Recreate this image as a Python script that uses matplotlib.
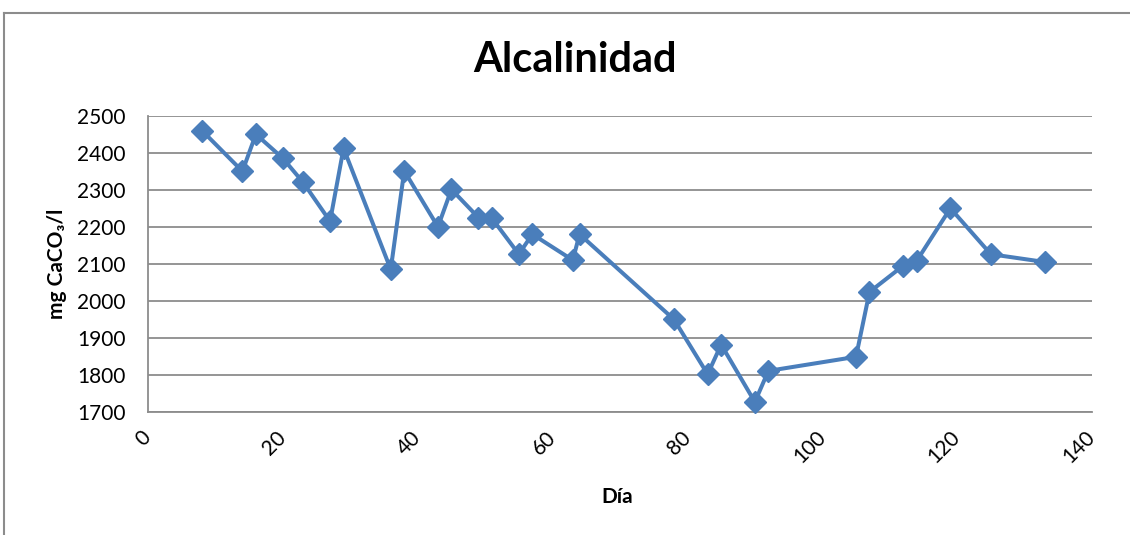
import matplotlib
matplotlib.use("Agg")
import matplotlib.pyplot as plt
from matplotlib.lines import Line2D

plt.rcParams['font.family'] = ['Lato', 'DejaVu Sans']

# Alkalinity measurements by day
dias = [8, 14, 16, 20, 23, 27, 29, 36, 38, 43, 45, 49, 51, 55, 57, 63, 64,
        78, 83, 85, 90, 92, 105, 107, 112, 114, 119, 125, 133]
alcalinidad = [2460, 2350, 2450, 2385, 2320, 2215, 2412, 2085, 2351, 2200,
               2301, 2225, 2223, 2126, 2180, 2110, 2180, 1950, 1802, 1882,
               1727, 1811, 1849, 2024, 2095, 2108, 2250, 2126, 2105]

x_ticks = [0, 20, 40, 60, 80, 100, 120, 140]
y_ticks = [1700, 1800, 1900, 2000, 2100, 2200, 2300, 2400, 2500]

W, H = 1130, 535
fig = plt.figure(figsize=(W / 100, H / 100), dpi=100)

# chart frame
border = '#8c8c8c'
fig.add_artist(Line2D([4 / W, 1.0], [1 - 13 / H, 1 - 13 / H], color=border, lw=1.5))
fig.add_artist(Line2D([4 / W, 4 / W], [0.0, 1 - 13 / H], color=border, lw=1.5))

left, right, top, bottom = 148 / W, 1092 / W, 115.7 / H, 412 / H
ax = fig.add_axes([left, 1 - bottom, right - left, bottom - top])

ax.plot(dias, alcalinidad, color='#4A7EBB', lw=2.9, marker='D',
        markersize=11, markerfacecolor='#4A7EBB', markeredgecolor='#4A7EBB',
        clip_on=False, zorder=3)

ax.set_xlim(0, 140)
ax.set_ylim(1700, 2500)
ax.set_xticks(x_ticks)
ax.set_yticks(y_ticks)
ax.set_xticklabels([str(t) for t in x_ticks], rotation=45, ha='right',
                   va='center', rotation_mode='anchor', fontsize=15)
ax.set_yticklabels([str(t) for t in y_ticks], fontsize=15)
ax.tick_params(axis='both', length=0)
ax.tick_params(axis='x', pad=16)
ax.tick_params(axis='y', pad=16)

ax.grid(axis='y', color='#8c8c8c', lw=1.3)
ax.set_axisbelow(True)
for side in ('top', 'right'):
    ax.spines[side].set_visible(False)
for side in ('left', 'bottom'):
    ax.spines[side].set_color('#8c8c8c')
    ax.spines[side].set_linewidth(1.3)

fig.text(575 / W, 1 - 60 / H, 'Alcalinidad', ha='center', va='center',
         fontsize=30, fontweight='bold')
fig.text(617 / W, 1 - 497 / H, 'Día', ha='center', va='center',
         fontsize=15, fontweight='bold')
fig.text(57 / W, 1 - 264 / H, 'mg CaCO₃/l', ha='center', va='center',
         rotation=90, fontsize=15, fontweight='bold')

fig.savefig('out.png', dpi=100, facecolor='white')
